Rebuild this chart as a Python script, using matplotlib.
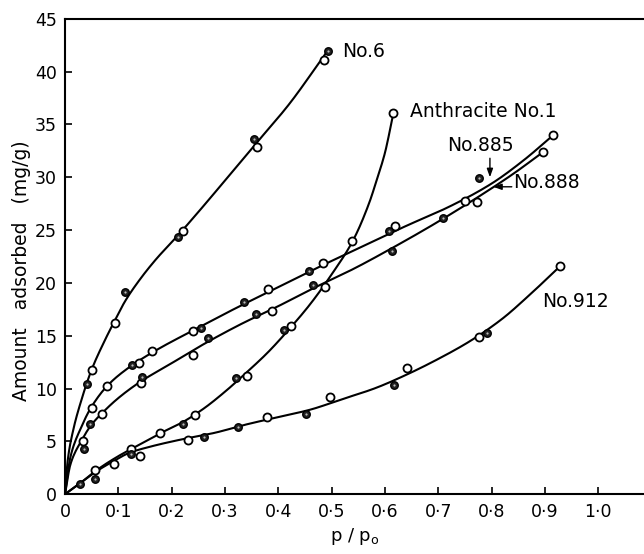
import numpy as np
import matplotlib
matplotlib.use("Agg")
import matplotlib.pyplot as plt

# ---- measured points: (p/p0, amount adsorbed mg/g) ----
no6_open_x = [0.050, 0.094, 0.222, 0.360, 0.486]
no6_open_y = [11.8, 16.2, 24.9, 32.9, 41.1]
no6_fill_x = [0.041, 0.113, 0.211, 0.355, 0.494]
no6_fill_y = [10.4, 19.1, 24.3, 33.6, 42.0]

n885_open_x = [0.033, 0.050, 0.078, 0.138, 0.163, 0.240, 0.381, 0.483, 0.619, 0.750, 0.916]
n885_open_y = [5.0, 8.2, 10.2, 12.4, 13.6, 15.4, 19.4, 21.9, 25.4, 27.8, 34.0]
n885_fill_x = [0.125, 0.255, 0.335, 0.458, 0.607, 0.777]
n885_fill_y = [12.2, 15.7, 18.2, 21.1, 24.9, 29.9]

n888_open_x = [0.069, 0.142, 0.240, 0.388, 0.487, 0.772, 0.897]
n888_open_y = [7.6, 10.5, 13.2, 17.3, 19.65, 27.7, 32.4]
n888_fill_x = [0.036, 0.047, 0.144, 0.269, 0.358, 0.466, 0.613, 0.709]
n888_fill_y = [4.3, 6.6, 11.1, 14.8, 17.1, 19.8, 23.0, 26.1]

anth_open_x = [0.056, 0.123, 0.178, 0.244, 0.341, 0.423, 0.538, 0.616]
anth_open_y = [2.3, 4.3, 5.8, 7.5, 11.2, 15.9, 24.0, 36.1]
anth_fill_x = [0.028, 0.221, 0.321, 0.410]
anth_fill_y = [1.0, 6.6, 11.0, 15.5]

n912_open_x = [0.091, 0.141, 0.231, 0.378, 0.497, 0.641, 0.777, 0.929]
n912_open_y = [2.9, 3.6, 5.1, 7.3, 9.2, 11.9, 14.9, 21.6]
n912_fill_x = [0.056, 0.123, 0.261, 0.325, 0.452, 0.617, 0.791]
n912_fill_y = [1.4, 3.8, 5.4, 6.4, 7.6, 10.3, 15.3]

# ---- hand-drawn isotherm curves (traced) ----
no6_curve_x = [0.0, 0.005, 0.015, 0.03, 0.05, 0.075, 0.094, 0.113, 0.14, 0.17, 0.21, 0.26, 0.31, 0.36, 0.42, 0.49]
no6_curve_y = [0.0, 3.2, 6.0, 8.8, 11.8, 14.6, 16.5, 18.3, 20.3, 22.2, 24.4, 27.3, 30.3, 33.3, 36.9, 41.8]

n885_curve_x = [0.0, 0.01, 0.03, 0.05, 0.08, 0.12, 0.17, 0.24, 0.32, 0.40, 0.48, 0.56, 0.64, 0.72, 0.80, 0.86, 0.916]
n885_curve_y = [0.0, 3.5, 6.3, 8.3, 10.3, 12.0, 13.6, 15.5, 17.6, 19.6, 21.6, 23.5, 25.4, 27.2, 29.4, 31.6, 34.0]

n888_curve_x = [0.0, 0.01, 0.03, 0.05, 0.07, 0.10, 0.14, 0.20, 0.26, 0.33, 0.40, 0.47, 0.54, 0.61, 0.70, 0.78, 0.84, 0.897]
n888_curve_y = [0.0, 2.8, 5.0, 6.6, 7.7, 9.1, 10.6, 12.4, 14.2, 16.1, 17.8, 19.6, 21.3, 23.2, 25.8, 28.3, 30.3, 32.4]

anth_curve_x = [0.0, 0.03, 0.06, 0.10, 0.14, 0.18, 0.22, 0.26, 0.30, 0.34, 0.38, 0.42, 0.46, 0.50, 0.54, 0.57, 0.585, 0.60, 0.616]
anth_curve_y = [0.0, 1.1, 2.3, 3.6, 4.7, 5.8, 6.8, 8.1, 9.7, 11.5, 13.4, 15.6, 18.0, 20.8, 24.0, 27.5, 29.8, 32.3, 36.1]

n912_curve_x = [0.0, 0.03, 0.06, 0.09, 0.12, 0.16, 0.22, 0.28, 0.34, 0.40, 0.46, 0.52, 0.58, 0.64, 0.70, 0.76, 0.82, 0.87, 0.929]
n912_curve_y = [0.0, 1.1, 2.2, 3.1, 3.9, 4.5, 5.2, 5.8, 6.6, 7.3, 8.0, 9.0, 10.0, 11.3, 12.8, 14.5, 16.6, 18.8, 21.6]

x_ticks = [0.0, 0.1, 0.2, 0.3, 0.4, 0.5, 0.6, 0.7, 0.8, 0.9, 1.0]
x_tick_labels = ["0", "0·1", "0·2", "0·3", "0·4", "0·5", "0·6", "0·7", "0·8", "0·9", "1·0"]
y_ticks = [0, 5, 10, 15, 20, 25, 30, 35, 40, 45]


def pchip(x, y, xs):
    """Shape-preserving piecewise cubic through (x, y)."""
    x = np.asarray(x, float)
    y = np.asarray(y, float)
    h = np.diff(x)
    d = np.diff(y) / h
    m = np.zeros_like(y)
    m[0], m[-1] = d[0], d[-1]
    for k in range(1, len(x) - 1):
        if d[k - 1] * d[k] > 0:
            w1 = 2 * h[k] + h[k - 1]
            w2 = h[k] + 2 * h[k - 1]
            m[k] = (w1 + w2) / (w1 / d[k - 1] + w2 / d[k])
    idx = np.clip(np.searchsorted(x, xs) - 1, 0, len(x) - 2)
    t = (xs - x[idx]) / h[idx]
    h00 = 2 * t**3 - 3 * t**2 + 1
    h10 = t**3 - 2 * t**2 + t
    h01 = -2 * t**3 + 3 * t**2
    h11 = t**3 - t**2
    return (h00 * y[idx] + h10 * h[idx] * m[idx]
            + h01 * y[idx + 1] + h11 * h[idx] * m[idx + 1])


plt.rcParams["font.family"] = ["DejaVu Sans"]

fig = plt.figure(figsize=(6.44, 5.54), dpi=100)
ax = fig.add_axes([0.101, 0.108, 0.899, 0.858])

curves = [
    (no6_curve_x, no6_curve_y),
    (n885_curve_x, n885_curve_y),
    (n888_curve_x, n888_curve_y),
    (anth_curve_x, anth_curve_y),
    (n912_curve_x, n912_curve_y),
]
for cx, cy in curves:
    xs = np.linspace(cx[0], cx[-1], 400)
    ax.plot(xs, pchip(cx, cy, xs), color="black", lw=1.5, zorder=2,
            solid_capstyle="round")

open_sets = [
    (no6_open_x, no6_open_y), (n885_open_x, n885_open_y),
    (n888_open_x, n888_open_y), (anth_open_x, anth_open_y),
    (n912_open_x, n912_open_y),
]
fill_sets = [
    (no6_fill_x, no6_fill_y), (n885_fill_x, n885_fill_y),
    (n888_fill_x, n888_fill_y), (anth_fill_x, anth_fill_y),
    (n912_fill_x, n912_fill_y),
]
for px, py in open_sets:
    ax.plot(px, py, ls="none", marker="o", ms=5.8, mfc="white",
            mec="black", mew=1.3, zorder=3)
for px, py in fill_sets:
    ax.plot(px, py, ls="none", marker="o", ms=5.4, mfc="#222222",
            mec="black", mew=1.0, zorder=3)
    ax.plot(px, py, ls="none", marker="o", ms=1.6, mfc="#bbbbbb",
            mec="none", zorder=4)

# curve labels
lab_kw = dict(fontsize=13.5, va="center", ha="left", color="black")
ax.text(0.520, 41.9, "No.6", **lab_kw)
ax.text(0.647, 36.2, "Anthracite No.1", **lab_kw)
ax.text(0.716, 33.0, "No.885", **lab_kw)
ax.text(0.841, 29.5, "No.888", **lab_kw)
ax.text(0.894, 18.2, "No.912", **lab_kw)

arrow_kw = dict(arrowstyle="-|>,head_length=0.5,head_width=0.18",
                color="black", lw=1.0, shrinkA=0, shrinkB=0)
ax.annotate("", xy=(0.797, 30.0), xytext=(0.797, 31.8), arrowprops=arrow_kw)
ax.annotate("", xy=(0.803, 29.1), xytext=(0.838, 29.1), arrowprops=arrow_kw)

ax.set_xlim(0, 1.086)
ax.set_ylim(0, 45)
ax.set_xticks(x_ticks)
ax.set_xticklabels(x_tick_labels)
ax.set_yticks(y_ticks)
ax.tick_params(axis="both", direction="in", length=5, width=1.2,
               labelsize=12.5, pad=6, colors="black")
ax.spines["right"].set_visible(False)
for s in ("left", "bottom", "top"):
    ax.spines[s].set_linewidth(1.5)

ax.set_xlabel("p / p$_\\mathrm{o}$", fontsize=13, labelpad=4)
ax.set_ylabel("Amount   adsorbed   (mg/g)", fontsize=13.5)
ax.yaxis.set_label_coords(-0.058, 0.47)

fig.savefig("out.png", dpi=100)
